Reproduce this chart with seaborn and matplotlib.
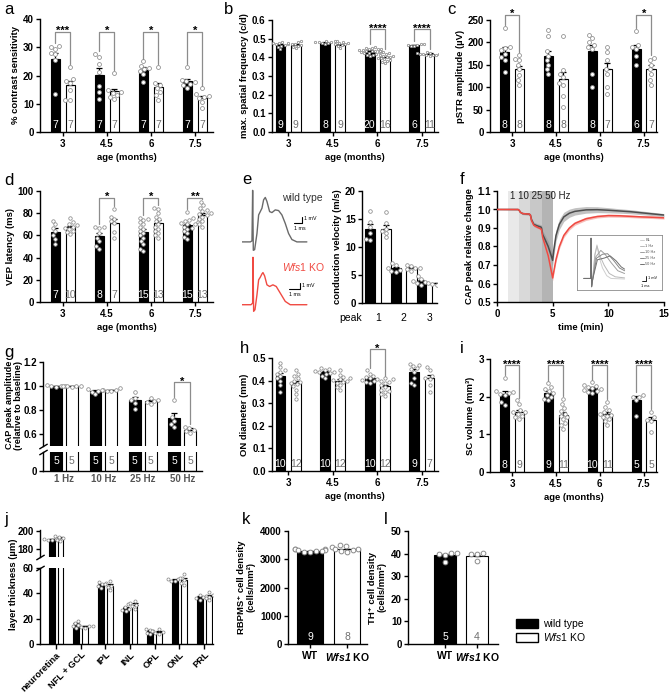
import numpy as np
import pandas as pd
import matplotlib
matplotlib.use("Agg")
import matplotlib.pyplot as plt
import seaborn as sns
from matplotlib.patches import Patch
import warnings

warnings.filterwarnings("ignore")

sns.set_style("ticks")
plt.rcParams["font.family"] = ["Liberation Sans", "DejaVu Sans"]
plt.rcParams.update({
    "mathtext.fontset": "custom",
    "mathtext.rm": "Liberation Sans",
    "mathtext.it": "Liberation Sans:italic",
    "mathtext.bf": "Liberation Sans:bold",
    "mathtext.bfit": "Liberation Sans:italic:bold",
    "axes.linewidth": 1.0,
    "axes.edgecolor": "black",
    "axes.labelweight": "bold",
    "axes.labelsize": 6.8,
    "axes.labelcolor": "black",
    "text.color": "black",
    "xtick.color": "black",
    "ytick.color": "black",
    "xtick.labelsize": 7,
    "ytick.labelsize": 7,
    "xtick.major.size": 3,
    "ytick.major.size": 3,
    "xtick.major.width": 1.0,
    "ytick.major.width": 1.0,
    "xtick.major.pad": 2,
    "ytick.major.pad": 1.5,
})

# ---------------- data ----------------
ages = ["3", "4.5", "6", "7.5"]

# a: contrast sensitivity
a_wt_mean = [26.0, 20.3, 22.0, 18.0]
a_ko_mean = [16.5, 14.4, 16.0, 12.0]
a_wt_sem = [1.8, 2.3, 0.9, 0.8]
a_ko_sem = [1.4, 0.9, 1.3, 0.8]
a_wt_pts = [[30.5, 30.0, 29.5, 28.0, 27.5, 25.5, 13.3], [27.5, 26.6, 24.2, 21.3, 16.2, 14.0, 11.6],
            [25.0, 23.5, 22.8, 22.2, 21.5, 20.5, 17.8], [23.0, 18.5, 18.0, 17.6, 17.0, 16.5, 15.6]]
a_ko_pts = [[23.0, 18.7, 18.0, 17.4, 15.0, 11.5, 11.5], [21.0, 14.8, 14.3, 13.9, 13.2, 12.5, 11.8],
            [23.0, 17.5, 16.8, 15.5, 14.2, 13.0, 11.5], [15.4, 13.3, 12.7, 12.4, 12.0, 10.7, 8.6]]
a_wt_n = [7, 7, 7, 7]
a_ko_n = [7, 7, 7, 7]
a_sig_idx = [0, 1, 2, 3]
a_sig_txt = ["***", "*", "*", "*"]

# b: max spatial frequency
b_wt_mean = [0.468, 0.479, 0.434, 0.465]
b_ko_mean = [0.468, 0.468, 0.400, 0.419]
b_wt_sem = [0.004, 0.002, 0.003, 0.002]
b_ko_sem = [0.004, 0.004, 0.004, 0.002]
b_wt_pts = [[0.482, 0.478, 0.475, 0.472, 0.469, 0.466, 0.462, 0.457, 0.445],
            [0.490, 0.487, 0.484, 0.482, 0.480, 0.478, 0.476, 0.474],
            [0.456, 0.452, 0.449, 0.446, 0.444, 0.442, 0.440, 0.438, 0.436, 0.434,
             0.432, 0.430, 0.428, 0.426, 0.424, 0.421, 0.418, 0.415, 0.412, 0.408],
            [0.471, 0.469, 0.467, 0.464, 0.462, 0.459]]
b_ko_pts = [[0.486, 0.482, 0.478, 0.474, 0.471, 0.467, 0.463, 0.458, 0.452],
            [0.486, 0.482, 0.479, 0.475, 0.472, 0.469, 0.466, 0.461, 0.452],
            [0.432, 0.426, 0.421, 0.417, 0.413, 0.409, 0.406, 0.403, 0.400, 0.397,
             0.394, 0.390, 0.386, 0.382, 0.377, 0.370],
            [0.428, 0.425, 0.423, 0.421, 0.419, 0.417, 0.416, 0.414, 0.413, 0.411, 0.409]]
b_wt_n = [9, 8, 20, 6]
b_ko_n = [9, 9, 16, 11]
b_sig_idx = [2, 3]
b_sig_txt = ["****", "****"]

# c: pSTR amplitude
c_wt_mean = [179, 170, 180, 185]
c_ko_mean = [140, 119, 140, 140]
c_wt_sem = [10, 11, 15, 9]
c_ko_sem = [8, 16, 15, 9]
c_wt_pts = [[232, 190, 188, 182, 175, 168, 160, 135], [228, 215, 180, 170, 160, 150, 140, 130],
            [217, 210, 200, 195, 190, 185, 130, 100], [225, 195, 190, 185, 170, 150]]
c_ko_pts = [[172, 162, 160, 150, 140, 128, 115, 105], [215, 138, 130, 122, 110, 105, 80, 55],
            [190, 178, 160, 140, 130, 100, 85], [165, 160, 150, 140, 130, 115, 105]]
c_wt_n = [8, 8, 8, 6]
c_ko_n = [8, 8, 7, 7]
c_sig_idx = [0, 3]
c_sig_txt = ["*", "*"]

# d: VEP latency
d_wt_mean = [63.3, 59.5, 63.0, 69.0]
d_ko_mean = [67.3, 71.6, 71.2, 78.8]
d_wt_sem = [3.0, 2.8, 2.5, 1.5]
d_ko_sem = [1.4, 3.3, 2.6, 1.8]
d_wt_pts = [[73, 70, 67, 64, 60, 57, 52], [68, 68, 67, 62, 58, 55, 50, 48],
            [76, 75, 74, 72, 70, 68, 66, 64, 62, 60, 58, 55, 52, 48, 46],
            [81, 76, 74, 73, 72, 71, 70, 70, 68, 67, 66, 64, 62, 59, 57]]
d_ko_pts = [[76, 72, 70, 69, 68, 67, 66, 64, 63, 61], [84, 77, 75, 73, 71, 63, 58],
            [85, 84, 80, 77, 75, 73, 70, 68, 66, 64, 62, 60, 58],
            [90, 87, 85, 83, 82, 80, 79, 78, 77, 75, 73, 70, 68]]
d_wt_n = [7, 8, 15, 15]
d_ko_n = [10, 7, 13, 13]
d_sig_idx = [1, 2, 3]
d_sig_txt = ["*", "*", "**"]

# e: conduction velocity + example traces (ms, mV)
e_cats = ["1", "2", "3"]
e_wt_mean = [13.3, 6.2, 3.9]
e_ko_mean = [13.3, 6.2, 3.5]
e_wt_sem = [0.8, 0.3, 0.25]
e_ko_sem = [0.6, 0.15, 0.1]
e_wt_pts = [[16.5, 14.5, 13.5, 12.5, 11.5, 11.3], [7.2, 6.8, 6.2, 5.9, 5.7, 5.6], [4.8, 4.2, 3.9, 3.7, 3.5, 3.3]]
e_ko_pts = [[16.3, 14.2, 13.3, 12.8, 12.5, 11.7], [6.8, 6.6, 6.3, 6.2, 6.0, 5.8], [3.7, 3.6, 3.5, 3.4, 3.3]]
e_wt_t = [0, 1.0, 1.2, 1.28, 1.36, 1.52, 1.8, 2.0, 2.2, 2.4, 2.6, 2.8, 3.0, 3.32, 3.6, 4.0, 4.4, 4.8,
          5.2, 5.6, 6.0, 6.6, 7.8]
e_wt_v = [0, 0, 0.15, 7.65, -1.25, -1.15, 1.25, 4.0, 4.5, 5.0, 6.25, 6.6, 6.0, 4.5, 4.35, 4.75, 4.65, 4.0,
          2.75, 1.25, 0.35, 0, 0]
e_ko_t = [0, 1.08, 1.28, 1.32, 1.4, 1.56, 1.8, 2.0, 2.2, 2.4, 2.52, 2.72, 3.0, 3.32, 3.72, 4.12, 4.6,
          5.2, 5.8, 7.8]
e_ko_v = [0, 0, 0.25, 7.15, -1.0, -0.75, 1.5, 3.75, 4.15, 4.65, 4.85, 4.35, 3.0, 2.75, 3.0, 2.75, 1.75,
          0.5, 0, 0]

# f: CAP peak relative change over time
f_time = [0, 1.9, 2.0, 2.1, 2.3, 2.9, 3.0, 3.1, 3.3, 3.6, 3.95, 4.0, 4.1, 4.3, 4.6, 4.9, 5.0, 5.1, 5.3,
          5.6, 6.0, 6.5, 7.0, 8.0, 9.0, 10.0, 11.0, 12.0, 13.0, 14.0, 15.0]
f_wt = [1.0, 1.0, 0.995, 0.985, 0.978, 0.975, 0.97, 0.945, 0.92, 0.912, 0.905, 0.9, 0.865, 0.84, 0.80,
        0.745, 0.725, 0.78, 0.86, 0.92, 0.96, 0.98, 0.99, 0.998, 0.999, 0.996, 0.992, 0.988, 0.982,
        0.976, 0.97]
f_ko = [1.0, 1.0, 0.995, 0.985, 0.978, 0.975, 0.97, 0.94, 0.915, 0.905, 0.895, 0.89, 0.85, 0.81, 0.75,
        0.66, 0.63, 0.665, 0.73, 0.80, 0.86, 0.90, 0.925, 0.95, 0.962, 0.967, 0.966, 0.963, 0.96,
        0.958, 0.955]
f_wt_sem = [0.0, 0.002, 0.004, 0.005, 0.006, 0.006, 0.007, 0.01, 0.012, 0.012, 0.013, 0.013, 0.02,
            0.025, 0.03, 0.032, 0.032, 0.032, 0.03, 0.028, 0.025, 0.022, 0.02, 0.018, 0.016, 0.014,
            0.012, 0.011, 0.01, 0.009, 0.008]
f_ko_sem = [0.0, 0.002, 0.003, 0.004, 0.004, 0.004, 0.005, 0.006, 0.007, 0.007, 0.008, 0.008, 0.01,
            0.012, 0.014, 0.015, 0.015, 0.015, 0.014, 0.013, 0.012, 0.011, 0.01, 0.009, 0.008, 0.008,
            0.008, 0.007, 0.007, 0.007, 0.007]
f_stim_edges = [1, 2, 3, 4, 5]
f_stim_label = "1 10 25 50 Hz"
inset_labels = ["BL", "1 Hz", "10 Hz", "25 Hz", "50 Hz"]
inset_x = [[0.8, 1.6, 1.65, 1.72, 1.85, 2.1, 2.35, 2.6, 3.0, 3.5, 4.0, 5.6],
           [0.8, 1.6, 1.65, 1.72, 1.85, 2.1, 2.35, 2.7, 3.2, 3.8, 4.5, 5.6],
           [0.8, 1.6, 1.65, 1.72, 1.85, 2.2, 2.8, 3.3, 4.0, 4.8, 5.6],
           [0.8, 1.6, 1.65, 1.72, 1.85, 2.3, 3.0, 3.6, 4.3, 5.0, 5.6],
           [0.8, 1.6, 1.65, 1.72, 1.85, 2.4, 3.2, 3.9, 4.6, 5.2, 5.6]]
inset_y = [[2.1, 2.1, 9.4, 0.6, 2.0, 6.5, 8.2, 6.0, 4.0, 2.6, 2.1, 2.0],
           [2.1, 2.1, 9.4, 0.6, 2.0, 6.3, 8.0, 6.2, 4.5, 3.0, 2.4, 2.2],
           [2.1, 2.1, 9.4, 0.6, 2.0, 6.0, 7.2, 6.5, 5.0, 3.5, 3.0],
           [2.1, 2.1, 9.4, 0.6, 2.0, 5.8, 6.5, 6.6, 5.4, 4.0, 3.5],
           [2.1, 2.1, 9.4, 0.6, 2.0, 5.5, 5.8, 6.2, 5.3, 4.2, 3.8]]
inset_colors = ["#cfcfcf", "#b8b8b8", "#a0a0a0", "#888888", "#707070"]

# g: CAP peak amplitude per frequency
g_cats = ["1 Hz", "10 Hz", "25 Hz", "50 Hz"]
g_wt_mean = [0.999, 0.958, 0.881, 0.735]
g_ko_mean = [0.998, 0.966, 0.876, 0.636]
g_wt_sem = [0.003, 0.010, 0.025, 0.042]
g_ko_sem = [0.002, 0.004, 0.008, 0.010]
g_wt_pts = [[1.005, 1.0, 1.0, 0.998, 0.995], [0.975, 0.965, 0.96, 0.95, 0.93],
            [0.95, 0.9, 0.88, 0.86, 0.81], [0.885, 0.74, 0.71, 0.68, 0.66]]
g_ko_pts = [[1.002, 1.0, 1.0, 0.998, 0.995], [0.98, 0.97, 0.965, 0.96, 0.958],
            [0.9, 0.885, 0.875, 0.87, 0.85], [0.66, 0.65, 0.635, 0.625, 0.61]]
g_wt_n = [5, 5, 5, 5]
g_ko_n = [5, 5, 5, 5]

# h: ON diameter
h_wt_mean = [0.422, 0.436, 0.411, 0.437]
h_ko_mean = [0.389, 0.400, 0.374, 0.410]
h_wt_sem = [0.012, 0.005, 0.005, 0.013]
h_ko_sem = [0.010, 0.007, 0.008, 0.014]
h_wt_pts = [[0.48, 0.46, 0.445, 0.44, 0.43, 0.42, 0.41, 0.40, 0.38, 0.35],
            [0.455, 0.45, 0.446, 0.442, 0.439, 0.436, 0.432, 0.428, 0.42, 0.41],
            [0.445, 0.43, 0.42, 0.415, 0.41, 0.406, 0.402, 0.398, 0.394, 0.39],
            [0.475, 0.47, 0.465, 0.455, 0.45, 0.44, 0.41, 0.39, 0.38]]
h_ko_pts = [[0.445, 0.43, 0.42, 0.41, 0.40, 0.395, 0.39, 0.385, 0.375, 0.36, 0.34, 0.32],
            [0.445, 0.425, 0.415, 0.41, 0.405, 0.402, 0.398, 0.394, 0.39, 0.38, 0.37, 0.36],
            [0.41, 0.405, 0.40, 0.395, 0.39, 0.38, 0.37, 0.36, 0.355, 0.35, 0.34, 0.33],
            [0.46, 0.445, 0.42, 0.41, 0.405, 0.38, 0.35]]
h_wt_n = [10, 10, 10, 9]
h_ko_n = [12, 12, 12, 7]
h_sig_idx = [2]
h_sig_txt = ["*"]

# i: SC volume
i_wt_mean = [2.08, 2.11, 2.22, 1.92]
i_ko_mean = [1.59, 1.51, 1.53, 1.37]
i_wt_sem = [0.07, 0.05, 0.03, 0.10]
i_ko_sem = [0.05, 0.07, 0.05, 0.09]
i_wt_pts = [[2.5, 2.15, 2.12, 2.1, 2.08, 2.05, 1.85, 1.78],
            [2.35, 2.25, 2.2, 2.15, 2.1, 2.05, 2.0, 1.95, 1.9],
            [2.38, 2.32, 2.28, 2.25, 2.22, 2.2, 2.18, 2.15, 2.12, 2.1],
            [2.05, 2.0, 1.98, 1.9, 1.48]]
i_ko_pts = [[1.9, 1.8, 1.65, 1.6, 1.58, 1.55, 1.5, 1.45, 1.4],
            [1.95, 1.8, 1.7, 1.62, 1.55, 1.5, 1.45, 1.4, 1.3, 1.25, 1.15],
            [1.85, 1.72, 1.65, 1.6, 1.55, 1.52, 1.5, 1.45, 1.4, 1.35, 1.25],
            [1.6, 1.45, 1.38, 1.35, 1.05]]
i_wt_n = [8, 9, 10, 5]
i_ko_n = [9, 11, 11, 5]
i_sig_idx = [0, 1, 2, 3]
i_sig_txt = ["****", "****", "****", "****"]

# j: retinal layer thickness
j_cats = ["neuroretina", "NFL + GCL", "IPL", "INL", "OPL", "ONL", "PRL"]
j_wt_mean = [190.7, 15.3, 46.8, 28.4, 10.0, 50.8, 37.1]
j_ko_mean = [191.7, 13.9, 46.0, 31.0, 9.5, 50.5, 37.6]
j_wt_sem = [0.4, 1.0, 0.9, 1.0, 0.7, 0.5, 0.7]
j_ko_sem = [1.1, 0.4, 1.2, 1.1, 0.6, 1.5, 1.1]
j_wt_pts = [[191.8, 191.2, 190.7, 190.2, 189.8], [18.5, 16.5, 15.0, 14.0, 12.5], [49, 48, 47, 46, 44],
            [31.5, 29.5, 28, 27, 26], [12, 11, 10, 9, 8], [52, 51.5, 51, 50, 49.5], [39, 38, 37, 36.5, 35]]
j_ko_pts = [[194.5, 193.5, 192, 190, 188.5], [15, 14.5, 14, 13.5, 12.5], [49.5, 47, 46, 45, 42.5],
            [34, 32.5, 31, 30, 27.5], [11.5, 10, 9.5, 8.5, 8], [55, 52, 50.5, 48.5, 46.5],
            [41, 38.5, 37.5, 36.5, 34.5]]

# k, l: cell densities
groups = ["WT", "KO"]
group_labels = ["WT", "$\\mathbfit{Wfs1}$ KO"]
k_mean = [3280, 3350]
k_sem = [20, 30]
k_pts = [[3380, 3370, 3350, 3330, 3310, 3300, 3290, 3270, 3250],
         [3490, 3460, 3420, 3380, 3350, 3320, 3290, 3260]]
k_n = [9, 8]
l_mean = [39.2, 38.8]
l_sem = [0.7, 0.8]
l_pts = [[40.2, 40.1, 40.0, 39.6, 36.5], [40.4, 39.9, 39.7, 36.9]]
l_n = [5, 4]

# ---------------- style helpers ----------------
W, H = 669, 694
BAR_COLORS = {"WT": "black", "KO": "white"}
PT_EDGE = "#8a8a8a"
KO_TXT = "#6f6f6f"
BRK = "#8c8c8c"
RED = "#f04a42"

fig = plt.figure(figsize=(W / 100, H / 100), dpi=100)


def px_axes(x0, y0, x1, y1):
    return fig.add_axes([x0 / W, 1 - y1 / H, (x1 - x0) / W, (y1 - y0) / H])


def bar_panel(ax, cats, means, sems, pts, off=0.17, bw=0.22, psize=2.8):
    n = len(cats)
    df = pd.DataFrame({"cat": list(cats) * 2,
                       "group": ["WT"] * n + ["KO"] * n,
                       "val": list(means[0]) + list(means[1])})
    sns.barplot(data=df, x="cat", y="val", hue="group", order=cats, hue_order=groups,
                palette=BAR_COLORS, edgecolor="black", linewidth=0.8, width=4 * off,
                gap=1 - bw / (2 * off), errorbar=None, legend=False, ax=ax)
    for k, sign in enumerate((-1, 1)):
        xs = np.arange(n) + sign * off
        ax.errorbar(xs, means[k], yerr=[np.zeros(n), sems[k]], fmt="none", ecolor="black",
                    elinewidth=0.9, capsize=2.2, capthick=0.9, zorder=3)
        dp = pd.DataFrame({"x": np.repeat(xs, [len(p) for p in pts[k]]),
                           "val": np.concatenate(pts[k])})
        sns.swarmplot(data=dp, x="x", y="val", native_scale=True, orient="x", color="white",
                      edgecolor=PT_EDGE, linewidth=0.55, size=psize, ax=ax, zorder=4)
    ax.set_xlabel("")
    ax.set_ylabel("")


def add_n(ax, ns, off, y=0.015, va="bottom"):
    tr = ax.get_xaxis_transform()
    for k, sign, col in ((0, -1, "white"), (1, 1, KO_TXT)):
        for i, v in enumerate(ns[k]):
            ax.text(i + sign * off, y, str(v), transform=tr, ha="center", va=va, color=col,
                    fontsize=7.5, zorder=6)


def bracket(ax, x1, x2, y, yl, yr, txt):
    ax.plot([x1, x1, x2, x2], [yl, y, y, yr], color=BRK, lw=0.9, clip_on=False, zorder=5)
    ax.annotate(txt, xy=((x1 + x2) / 2, y), xytext=(0, -1.8), textcoords="offset points",
                ha="center", va="baseline", fontsize=8, fontweight="bold", annotation_clip=False)


def set_yt(ax, ticks, fmt="{:g}"):
    ax.set_yticks(ticks, [fmt.format(t) for t in ticks], fontweight="bold")


def age_panel(rect, means, sems, pts, ns, ylim, ticks, fmt, ylabel, sig_idx, sig_txt, bry, xlim,
              psize=2.8):
    ax = px_axes(*rect)
    bar_panel(ax, ages, means, sems, pts, psize=psize)
    ax.set_ylim(*ylim)
    set_yt(ax, ticks, fmt)
    ax.set_xticks(range(4), ages, fontweight="bold")
    ax.set_xlim(*xlim)
    ax.set_ylabel(ylabel, labelpad=2)
    ax.set_xlabel("age (months)", labelpad=3)
    add_n(ax, ns, 0.17)
    pad = 0.025 * (ylim[1] - ylim[0])
    for i, t in zip(sig_idx, sig_txt):
        bracket(ax, i - 0.17, i + 0.17, bry, max(pts[0][i]) + pad, max(pts[1][i]) + pad, t)
    sns.despine(ax=ax)
    return ax


def break_marks(ax, y):
    ax.plot([0], [y], transform=ax.transAxes, marker=[(-1, -0.6), (1, 0.6)], markersize=6,
            linestyle="none", color="black", mec="black", mew=1, clip_on=False)


# ---------------- a, b, c, d, h, i ----------------
age_panel((40, 19, 213, 132), (a_wt_mean, a_ko_mean), (a_wt_sem, a_ko_sem), (a_wt_pts, a_ko_pts),
          (a_wt_n, a_ko_n), (0, 40), [0, 10, 20, 30, 40], "{:g}", "% contrast sensitivity",
          a_sig_idx, a_sig_txt, 35.5, (-0.52, 3.41))
age_panel((272, 20, 438, 132), (b_wt_mean, b_ko_mean), (b_wt_sem, b_ko_sem), (b_wt_pts, b_ko_pts),
          (b_wt_n, b_ko_n), (0, 0.6), [0, 0.1, 0.2, 0.3, 0.4, 0.5, 0.6], "{:.1f}",
          "max. spatial frequency (c/d)", b_sig_idx, b_sig_txt, 0.55, (-0.36, 3.36), psize=1.7)
age_panel((490, 20, 657, 132), (c_wt_mean, c_ko_mean), (c_wt_sem, c_ko_sem), (c_wt_pts, c_ko_pts),
          (c_wt_n, c_ko_n), (0, 250), [0, 50, 100, 150, 200, 250], "{:g}", "pSTR amplitude (µV)",
          c_sig_idx, c_sig_txt, 262, (-0.5, 3.3))
age_panel((40, 191, 213, 302), (d_wt_mean, d_ko_mean), (d_wt_sem, d_ko_sem), (d_wt_pts, d_ko_pts),
          (d_wt_n, d_ko_n), (0, 100), [0, 20, 40, 60, 80, 100], "{:g}", "VEP latency (ms)",
          d_sig_idx, d_sig_txt, 94, (-0.52, 3.41), psize=2.5)
age_panel((272, 358, 438, 471), (h_wt_mean, h_ko_mean), (h_wt_sem, h_ko_sem), (h_wt_pts, h_ko_pts),
          (h_wt_n, h_ko_n), (0, 0.5), [0, 0.1, 0.2, 0.3, 0.4, 0.5], "{:.1f}", "ON diameter (mm)",
          h_sig_idx, h_sig_txt, 0.54, (-0.36, 3.36), psize=2.4)
age_panel((490, 359, 657, 472), (i_wt_mean, i_ko_mean), (i_wt_sem, i_ko_sem), (i_wt_pts, i_ko_pts),
          (i_wt_n, i_ko_n), (0, 3), [0, 1, 2, 3], "{:g}", "SC volume (mm³)",
          i_sig_idx, i_sig_txt, 2.84, (-0.5, 3.3), psize=2.6)

# ---------------- e ----------------
for t, v, rect, ylim, col in ((e_wt_t, e_wt_v, (242, 188, 321, 252), (-1.5, 8.0), "#6a6a6a"),
                              (e_ko_t, e_ko_v, (242, 255, 321, 313), (-1.25, 7.5), RED)):
    axt = px_axes(*rect)
    sns.lineplot(x=t, y=v, color=col, linewidth=1.0, ax=axt)
    axt.set_xlim(0, 9.5)
    axt.set_ylim(*ylim)
    axt.axis("off")
    if col == RED:
        axt.text(4.8, 5.75, "$\\mathit{Wfs1}$ KO", color=RED, fontsize=7.5, va="center")
        sx, sy = 5.6, 2.35
        axt.plot([sx, sx + 1.4, sx + 1.4], [sy, sy, sy + 0.9], color="black", lw=0.8)
        axt.text(sx + 1.6, sy + 0.6, "1 mV", fontsize=3.8, va="center")
        axt.text(sx, sy - 0.5, "1 ms", fontsize=3.8, va="top")
    else:
        axt.text(4.8, 6.5, "wild type", color="#333333", fontsize=7.5, va="center")
        sx, sy = 6.2, 2.85
        axt.plot([sx, sx + 1.0, sx + 1.0], [sy, sy, sy + 0.9], color="black", lw=0.8)
        axt.text(sx + 1.25, sy + 0.6, "1 mV", fontsize=3.8, va="center")
        axt.text(sx, sy - 0.5, "1 ms", fontsize=3.8, va="top")

ax_e = px_axes(362, 191, 437, 303)
bar_panel(ax_e, e_cats, (e_wt_mean, e_ko_mean), (e_wt_sem, e_ko_sem), (e_wt_pts, e_ko_pts),
          off=0.31, bw=0.4, psize=2.6)
ax_e.set_ylim(0, 20)
set_yt(ax_e, [0, 5, 10, 15, 20])
ax_e.set_xticks(range(3), e_cats, fontsize=7.5)
ax_e.tick_params(axis="x", length=0, pad=7)
ax_e.set_xlim(-0.63, 2.31)
ax_e.set_ylabel("conduction velocity (m/s)", labelpad=2)
ax_e.text(-1.06, -0.134, "peak", transform=ax_e.get_xaxis_transform(), ha="center", va="center",
          fontsize=7.5, clip_on=False)
sns.despine(ax=ax_e)

# ---------------- f ----------------
ax_f = px_axes(497, 191, 664, 302)
shades = ["#e9e9e9", "#d9d9d9", "#c8c8c8", "#b4b4b4"]
for k in range(4):
    ax_f.axvspan(f_stim_edges[k], f_stim_edges[k + 1], color=shades[k], lw=0, zorder=0)
ax_f.text(1.15, 1.072, f_stim_label, ha="left", va="center", fontsize=7, color="#222222")
fw, fk = np.array(f_wt), np.array(f_ko)
fws, fks = np.array(f_wt_sem), np.array(f_ko_sem)
ax_f.fill_between(f_time, fk - fks, fk + fks, color="#f5a29c", alpha=0.7, lw=0, zorder=2)
ax_f.fill_between(f_time, fw - fws, fw + fws, color="#9a9a9a", alpha=0.6, lw=0, zorder=2)
sns.lineplot(x=f_time, y=f_wt, color="#4d4d4d", linewidth=1.1, ax=ax_f, zorder=3)
sns.lineplot(x=f_time, y=f_ko, color=RED, linewidth=1.1, ax=ax_f, zorder=3)
ax_f.set_xlim(0, 15)
ax_f.set_ylim(0.5, 1.1)
ax_f.set_xticks([0, 5, 10, 15], ["0", "5", "10", "15"], fontweight="bold")
set_yt(ax_f, [0.5, 0.6, 0.7, 0.8, 0.9, 1.0, 1.1], "{:.1f}")
ax_f.set_xlabel("time (min)", labelpad=3)
ax_f.set_ylabel("CAP peak relative change", labelpad=2)
sns.despine(ax=ax_f)

ax_in = px_axes(577, 235, 662, 290)
for xs, ys, col in zip(inset_x, inset_y, inset_colors):
    sns.lineplot(x=xs, y=ys, color=col, linewidth=0.7, ax=ax_in)
for k, (lab, col) in enumerate(zip(inset_labels, inset_colors)):
    yy = 9.1 - 1.08 * k
    ax_in.plot([7.4, 7.9], [yy, yy], color=col, lw=0.7)
    ax_in.text(8.05, yy, lab, fontsize=2.8, va="center", color="#555555")
ax_in.plot([7.6, 8.1, 8.1], [1.6, 1.6, 2.6], color="black", lw=0.6)
ax_in.text(8.3, 2.1, "1 mV", fontsize=2.8, va="center")
ax_in.text(7.5, 1.1, "1 ms", fontsize=2.8, va="top")
ax_in.set_xlim(0, 10)
ax_in.set_ylim(0, 10)
ax_in.set_xticks([])
ax_in.set_yticks([])
ax_in.set_xlabel("")
ax_in.set_ylabel("")
for sp in ax_in.spines.values():
    sp.set_color("#8a8a8a")
    sp.set_linewidth(0.6)

# ---------------- g (broken axis) ----------------
ax_gu = px_axes(43, 362, 202, 446)
ax_gl = px_axes(43, 452, 202, 471)
for ax in (ax_gu, ax_gl):
    bar_panel(ax, g_cats, (g_wt_mean, g_ko_mean), (g_wt_sem, g_ko_sem), (g_wt_pts, g_ko_pts),
              off=0.2, bw=0.3, psize=2.6)
    ax.set_xlim(-0.53, 3.5)
    sns.despine(ax=ax)
ax_gu.set_ylim(0.5, 1.2)
set_yt(ax_gu, [0.6, 0.8, 1.0, 1.2], "{:.1f}")
ax_gu.spines["bottom"].set_visible(False)
ax_gu.set_xticks([])
ax_gl.set_ylim(0, 0.16)
set_yt(ax_gl, [0])
ax_gl.set_xticks(range(4), g_cats, fontweight="bold", color="#555555")
ax_gl.tick_params(axis="x", length=0, pad=2)
add_n(ax_gl, (g_wt_n, g_ko_n), 0.2, y=0.5, va="center")
bracket(ax_gu, 3 - 0.2, 3 + 0.2, 1.03, max(g_wt_pts[3]) + 0.025, max(g_ko_pts[3]) + 0.025, "*")
break_marks(ax_gu, 0)
break_marks(ax_gl, 1)
fig.text(14 / W, 1 - 405 / H, "CAP peak amplitude\n(relative to baseline)", rotation=90,
         ha="center", va="center", fontsize=6.6, fontweight="bold", linespacing=1.05)

# ---------------- j (broken axis) ----------------
ax_ju = px_axes(40, 530, 213, 557)
ax_jl = px_axes(40, 568, 213, 644)
for ax in (ax_ju, ax_jl):
    bar_panel(ax, j_cats, (j_wt_mean, j_ko_mean), (j_wt_sem, j_ko_sem), (j_wt_pts, j_ko_pts),
              off=0.18, bw=0.24, psize=2.2)
    ax.set_xlim(-0.65, 6.36)
    sns.despine(ax=ax)
ax_ju.set_ylim(171, 201)
set_yt(ax_ju, [180, 200])
ax_ju.spines["bottom"].set_visible(False)
ax_ju.set_xticks([])
ax_jl.set_ylim(0, 60)
set_yt(ax_jl, [0, 20, 40, 60])
ax_jl.set_xticks(range(7), j_cats, fontweight="bold", rotation=45, ha="right",
                 rotation_mode="anchor", fontsize=6.7)
ax_jl.tick_params(axis="x", length=3.5, pad=1)
break_marks(ax_ju, 0)
break_marks(ax_jl, 1)
fig.text(14 / W, 1 - 584 / H, "layer thickness (µm)", rotation=90, ha="center", va="center",
         fontsize=6.8, fontweight="bold")

# ---------------- k, l ----------------
for rect, means, sems, pts, ns, ylim, ticks, ylabel, xlim in (
        ((288, 531, 367, 644), k_mean, k_sem, k_pts, k_n, (0, 4000), [0, 1000, 2000, 3000, 4000],
         "RBPMS⁺ cell density\n(cells/mm²)", (-0.6, 1.54)),
        ((408, 531, 498, 644), l_mean, l_sem, l_pts, l_n, (0, 50), [0, 10, 20, 30, 40, 50],
         "TH⁺ cell density\n(cells/mm²)", (-1.16, 1.66))):
    ax = px_axes(*rect)
    df = pd.DataFrame({"group": groups, "val": means})
    sns.barplot(data=df, x="group", y="val", hue="group", order=groups, hue_order=groups,
                palette=BAR_COLORS, edgecolor="black", linewidth=0.8, width=0.7, errorbar=None,
                legend=False, ax=ax)
    ax.errorbar([0, 1], means, yerr=[[0, 0], sems], fmt="none", ecolor="black", elinewidth=0.9,
                capsize=2.2, capthick=0.9, zorder=3)
    dp = pd.DataFrame({"group": np.repeat(groups, [len(p) for p in pts]),
                       "val": np.concatenate(pts)})
    sns.swarmplot(data=dp, x="group", y="val", order=groups, color="white", edgecolor=PT_EDGE,
                  linewidth=0.7, size=3.4, ax=ax, zorder=4)
    ax.set_ylim(*ylim)
    set_yt(ax, ticks)
    ax.set_xticks([0, 1], group_labels, fontweight="bold", fontsize=7.5)
    ax.set_xlim(*xlim)
    ax.set_xlabel("")
    ax.set_ylabel(ylabel, labelpad=3, linespacing=1.1)
    tr = ax.get_xaxis_transform()
    ax.text(0, 0.015, str(ns[0]), transform=tr, ha="center", va="bottom", color="white", fontsize=7.5)
    ax.text(1, 0.015, str(ns[1]), transform=tr, ha="center", va="bottom", color=KO_TXT, fontsize=7.5)
    sns.despine(ax=ax)

handles = [Patch(facecolor="black", edgecolor="black", lw=1),
           Patch(facecolor="white", edgecolor="black", lw=1)]
fig.legend(handles, ["wild type", "$\\mathit{Wfs1}$ KO"], loc="upper left",
           bbox_to_anchor=(516 / W, 1 - 619 / H), frameon=False, fontsize=7.5, handlelength=2.1,
           handleheight=0.9, handletextpad=0.5, labelspacing=0.2, borderaxespad=0, borderpad=0)

# ---------------- panel letters ----------------
letters = ["a", "b", "c", "d", "e", "f", "g", "h", "i", "j", "k", "l"]
letter_pos = [(4, 2), (224, 2), (447, 2), (4, 173), (242, 172), (460, 172), (4, 345), (240, 341),
              (460, 341), (4, 512), (242, 512), (384, 512)]
for lt, (x, y) in zip(letters, letter_pos):
    fig.text(x / W, 1 - y / H, lt, fontsize=12, va="top", ha="left")

fig.savefig("out.png", dpi=100)
